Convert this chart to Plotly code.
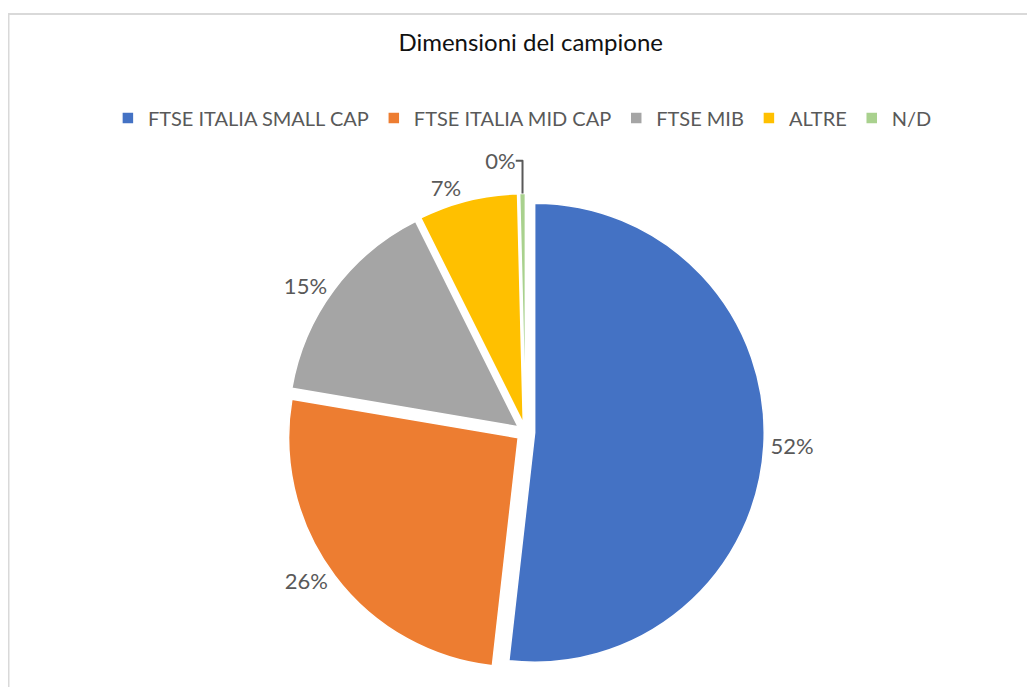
import plotly.graph_objects as go

categories = ["FTSE ITALIA SMALL CAP", "FTSE ITALIA MID CAP", "FTSE MIB", "ALTRE", "N/D"]
values = [52, 26, 15, 7, 0.4]
colors = ["#4472C4", "#ED7D31", "#A5A5A5", "#FFC000", "#A9D18E"]

W, H = 1035, 687
FONT = "Lato, Open Sans, sans-serif"
fig = go.Figure()
fig.add_trace(go.Pie(
    labels=categories,
    values=values,
    sort=False,
    direction="clockwise",
    rotation=0,
    marker=dict(colors=colors, line=dict(color="white", width=1.5)),
    pull=[0.04, 0.04, 0.04, 0.04, 0.04],
    textinfo="percent",
    texttemplate="%{percent:.0%}",
    textposition="outside",
    textfont=dict(family=FONT, size=22, color="#595959"),
    domain=dict(x=[0.05, 0.95], y=[0.035, 0.73]),
    hole=0,
    showlegend=True,
))

fig.update_layout(
    width=W, height=H,
    autosize=False,
    margin=dict(l=0, r=0, t=0, b=0, pad=0, autoexpand=False),
    paper_bgcolor="white",
    plot_bgcolor="white",
    title=dict(text="Dimensioni del campione", x=0.505, xanchor="center", y=1 - 35 / H, yanchor="middle",
               xref="paper", yref="paper",
               font=dict(family=FONT, size=24, color="#111111")),
    legend=dict(orientation="h", x=0.497, xanchor="center", y=1 - 110 / H, yanchor="middle",
                font=dict(family=FONT, size=20, color="#595959"),
                traceorder="normal", itemwidth=30),
    shapes=[
        dict(type="line", xref="paper", yref="paper", x0=0, x1=1, y0=1 - 6 / H, y1=1 - 6 / H,
             line=dict(color="#D9D9D9", width=2)),
        dict(type="line", xref="paper", yref="paper", x0=0.5 / W, x1=0.5 / W, y0=0, y1=1 - 6 / H,
             line=dict(color="#D9D9D9", width=2)),
    ],
)

fig.write_html("out.html")
